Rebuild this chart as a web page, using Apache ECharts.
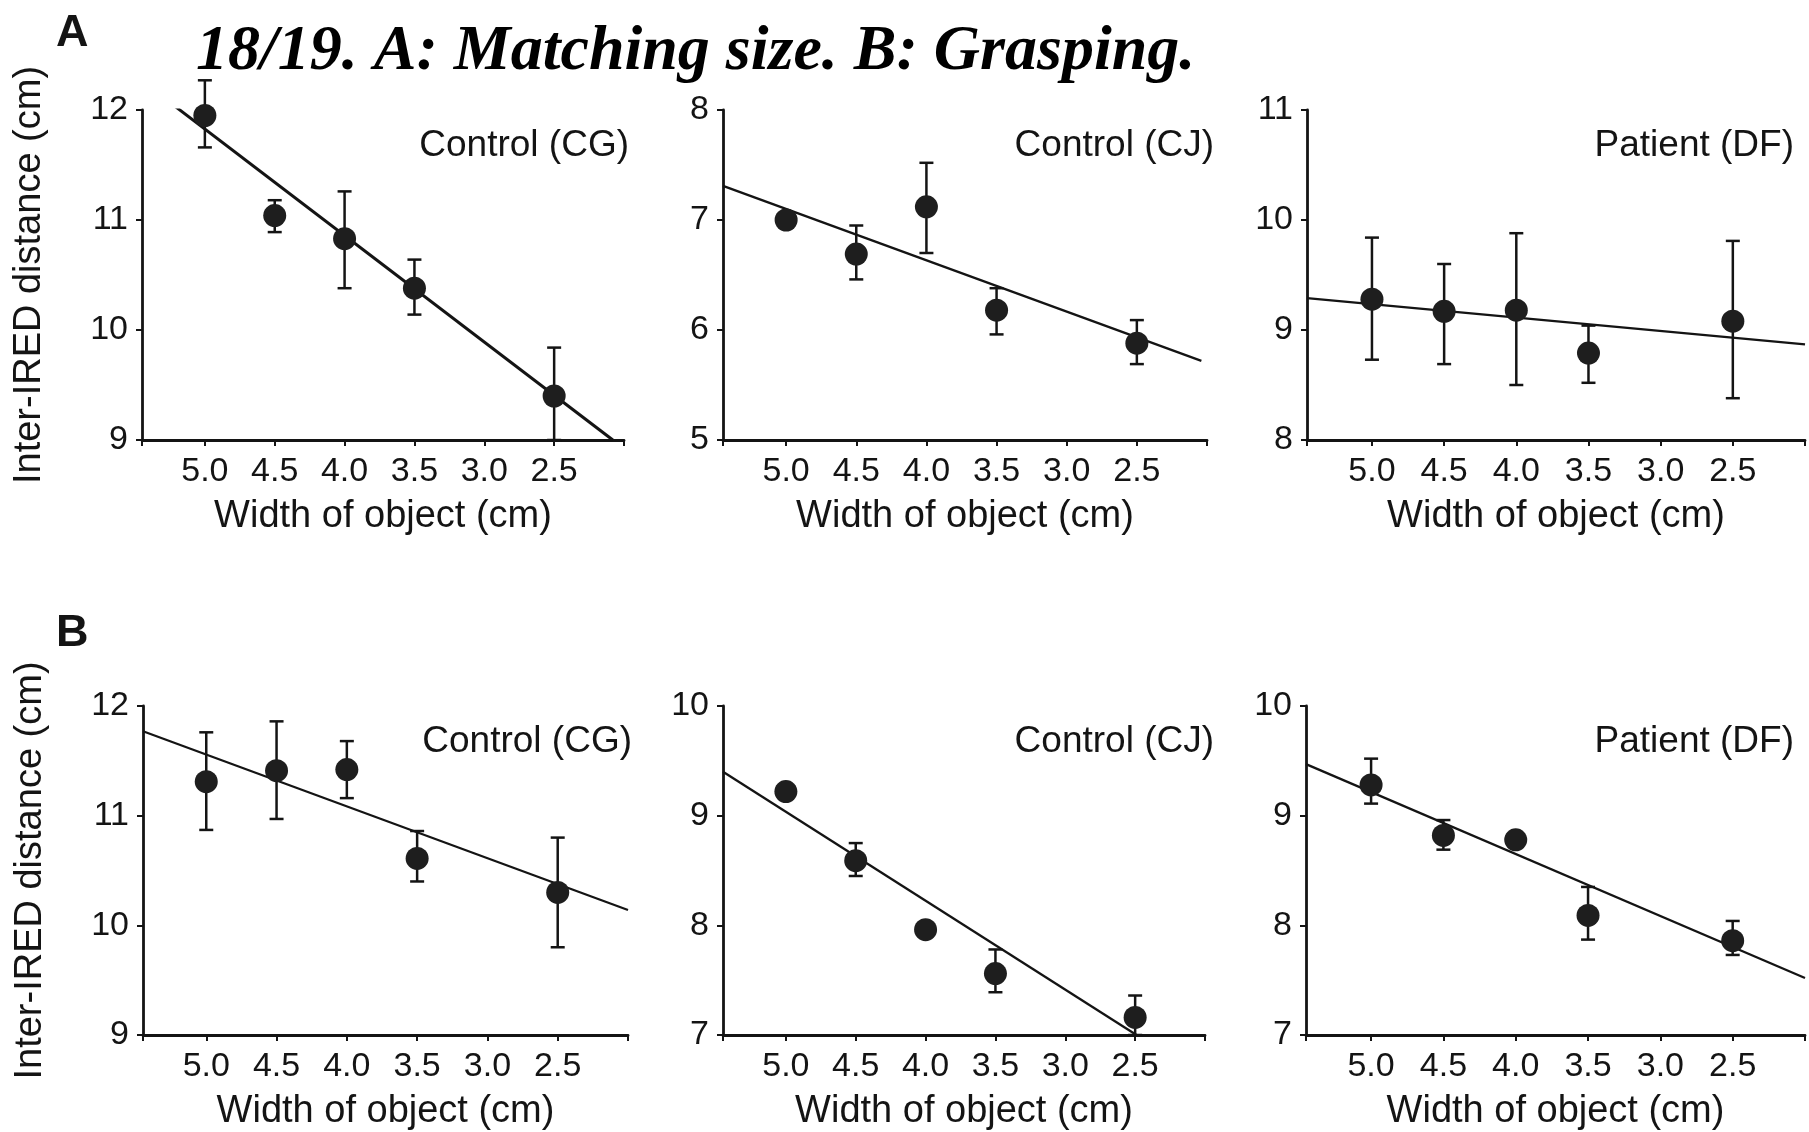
<!DOCTYPE html>
<html>
<head>
<meta charset="utf-8">
<title>Inter-IRED distance vs width of object</title>
<script src="https://cdn.jsdelivr.net/npm/echarts@6/dist/echarts.min.js"></script>
<style>
  html, body { margin: 0; padding: 0; background: #fff; }
  #chart { width: 1809px; height: 1132px; }
</style>
</head>
<body>
<div id="chart"></div>
<script>
// object widths (cm) where a point was measured
const widths = [5.0, 4.5, 4.0, 3.5, 2.5]

// A: matching size
const aCgMean = [11.95, 11.04, 10.83, 10.38, 9.40]
const aCgLow = [11.66, 10.89, 10.38, 10.14, 9.00]
const aCgHigh = [12.27, 11.18, 11.26, 10.64, 9.84]
const aCgFit = [[5.21, 12.03], [2.08, 9.0]]

const aCjMean = [7.00, 6.69, 7.12, 6.18, 5.88]
const aCjLow = [null, 6.46, 6.70, 5.96, 5.69]
const aCjHigh = [null, 6.95, 7.52, 6.38, 6.09]
const aCjFit = [[5.45, 7.31], [2.04, 5.72]]

const aDfMean = [9.28, 9.17, 9.18, 8.79, 9.08]
const aDfLow = [8.73, 8.69, 8.50, 8.52, 8.38]
const aDfHigh = [9.84, 9.60, 9.88, 9.04, 9.81]
const aDfFit = [[5.45, 9.29], [2.0, 8.87]]

// B: grasping
const bCgMean = [11.31, 11.41, 11.42, 10.61, 10.30]
const bCgLow = [10.87, 10.97, 11.16, 10.40, 9.80]
const bCgHigh = [11.76, 11.86, 11.68, 10.86, 10.80]
const bCgFit = [[5.45, 11.77], [2.0, 10.14]]

const bCjMean = [9.22, 8.59, 7.96, 7.56, 7.16]
const bCjLow = [null, 8.45, null, 7.39, 7.00]
const bCjHigh = [null, 8.75, null, 7.78, 7.36]
const bCjFit = [[5.45, 9.40], [2.49, 7.0]]

const bDfMean = [9.28, 8.82, 8.78, 8.09, 7.86]
const bDfLow = [9.11, 8.69, null, 7.87, 7.73]
const bDfHigh = [9.52, 8.96, null, 8.35, 8.04]
const bDfFit = [[5.45, 9.47], [2.0, 7.52]]

const yRanges = [[9, 12], [5, 8], [8, 11], [9, 12], [7, 10], [7, 10]]
const panelLabels = ['Control (CG)', 'Control (CJ)', 'Patient (DF)', 'Control (CG)', 'Control (CJ)', 'Patient (DF)']

const panels = [
  { mean: aCgMean, low: aCgLow, high: aCgHigh, fit: aCgFit, labelRight: 629, grid: { left: 142, top: 110, width: 482, height: 330 } },
  { mean: aCjMean, low: aCjLow, high: aCjHigh, fit: aCjFit, labelRight: 1214, grid: { left: 723, top: 110, width: 484, height: 330 } },
  { mean: aDfMean, low: aDfLow, high: aDfHigh, fit: aDfFit, labelRight: 1794, grid: { left: 1307, top: 110, width: 498, height: 330 } },
  { mean: bCgMean, low: bCgLow, high: bCgHigh, fit: bCgFit, labelRight: 632, grid: { left: 143, top: 706, width: 485, height: 330 } },
  { mean: bCjMean, low: bCjLow, high: bCjHigh, fit: bCjFit, labelRight: 1214, grid: { left: 723, top: 706, width: 482, height: 330 } },
  { mean: bDfMean, low: bDfLow, high: bDfHigh, fit: bDfFit, labelRight: 1794, grid: { left: 1306, top: 706, width: 499, height: 330 } }
]

const ink = '#141414'
const sans = 'Liberation Sans, Arial, sans-serif'

function renderErr(params, api) {
  const x = api.value(0)
  const lo = api.coord([x, api.value(1)])
  const hi = api.coord([x, api.value(2)])
  const cap = 7
  const st = { stroke: ink, lineWidth: 2.5 }
  return {
    type: 'group',
    children: [
      { type: 'line', shape: { x1: lo[0], y1: lo[1], x2: hi[0], y2: hi[1] }, style: st },
      { type: 'line', shape: { x1: lo[0] - cap, y1: lo[1], x2: lo[0] + cap, y2: lo[1] }, style: st },
      { type: 'line', shape: { x1: hi[0] - cap, y1: hi[1], x2: hi[0] + cap, y2: hi[1] }, style: st }
    ]
  }
}

const grids = []
const xAxes = []
const yAxes = []
const series = []
const graphics = []

panels.forEach((p, i) => {
  grids.push(p.grid)
  xAxes.push({
    gridIndex: i,
    type: 'value',
    inverse: true,
    min: 2,
    max: 5.45,
    interval: 0.5,
    name: 'Width of object (cm)',
    nameLocation: 'middle',
    nameGap: 58,
    nameTextStyle: { fontFamily: sans, fontSize: 38, color: ink },
    axisLine: { onZero: false, lineStyle: { color: ink, width: 2.8 } },
    axisTick: { show: true, length: 6, lineStyle: { color: ink, width: 2 } },
    splitLine: { show: false },
    axisLabel: {
      margin: 15,
      fontFamily: sans,
      fontSize: 34,
      color: ink,
      formatter: v => (v >= 2.4 && v <= 5.01 ? v.toFixed(1) : '')
    }
  })
  yAxes.push({
    gridIndex: i,
    type: 'value',
    min: yRanges[i][0],
    max: yRanges[i][1],
    interval: 1,
    name: i % 3 === 0 ? 'Inter-IRED distance (cm)' : '',
    nameLocation: 'middle',
    nameGap: 93,
    nameTextStyle: { fontFamily: sans, fontSize: 38, color: ink },
    axisLine: { show: true, onZero: false, lineStyle: { color: ink, width: 2.8 } },
    axisTick: { show: true, length: 6, lineStyle: { color: ink, width: 2 } },
    splitLine: { show: false },
    axisLabel: { margin: 14, fontFamily: sans, fontSize: 34, color: ink }
  })

  series.push({
    type: 'line',
    xAxisIndex: i,
    yAxisIndex: i,
    data: p.fit,
    symbol: 'none',
    silent: true,
    lineStyle: { color: ink, width: i === 0 ? 3 : 2.3 },
    z: 2
  })

  const errData = []
  widths.forEach((w, k) => {
    if (p.low[k] != null) errData.push([w, p.low[k], p.high[k]])
  })
  series.push({
    type: 'custom',
    xAxisIndex: i,
    yAxisIndex: i,
    renderItem: renderErr,
    data: errData,
    z: 3
  })

  series.push({
    type: 'scatter',
    xAxisIndex: i,
    yAxisIndex: i,
    data: widths.map((w, k) => [w, p.mean[k]]),
    symbol: 'circle',
    symbolSize: 23,
    itemStyle: { color: '#1e1e1e', opacity: 1 },
    z: 4
  })

  graphics.push({
    type: 'text',
    x: p.labelRight,
    y: p.grid.top + 36,
    style: {
      text: panelLabels[i],
      font: '37px ' + sans,
      fill: ink,
      align: 'right',
      textAlign: 'right',
      verticalAlign: 'middle',
      textVerticalAlign: 'middle'
    }
  })
})

graphics.push(
  {
    type: 'text', x: 196, y: 52,
    style: {
      text: '18/19. A: Matching size. B: Grasping.',
      font: 'italic bold 64px "Liberation Serif", "Times New Roman", serif',
      fill: '#000', verticalAlign: 'middle', textVerticalAlign: 'middle'
    }
  },
  {
    type: 'text', x: 56, y: 34,
    style: { text: 'A', font: 'bold 45px "Liberation Sans", Arial, sans-serif', fill: ink, verticalAlign: 'middle', textVerticalAlign: 'middle' }
  },
  {
    type: 'text', x: 56, y: 634,
    style: { text: 'B', font: 'bold 45px "Liberation Sans", Arial, sans-serif', fill: ink, verticalAlign: 'middle', textVerticalAlign: 'middle' }
  }
)

const chart = echarts.init(document.getElementById('chart'))
chart.setOption({
  backgroundColor: '#fff',
  animation: false,
  grid: grids,
  xAxis: xAxes,
  yAxis: yAxes,
  series: series,
  graphic: graphics
})
</script>
</body>
</html>
